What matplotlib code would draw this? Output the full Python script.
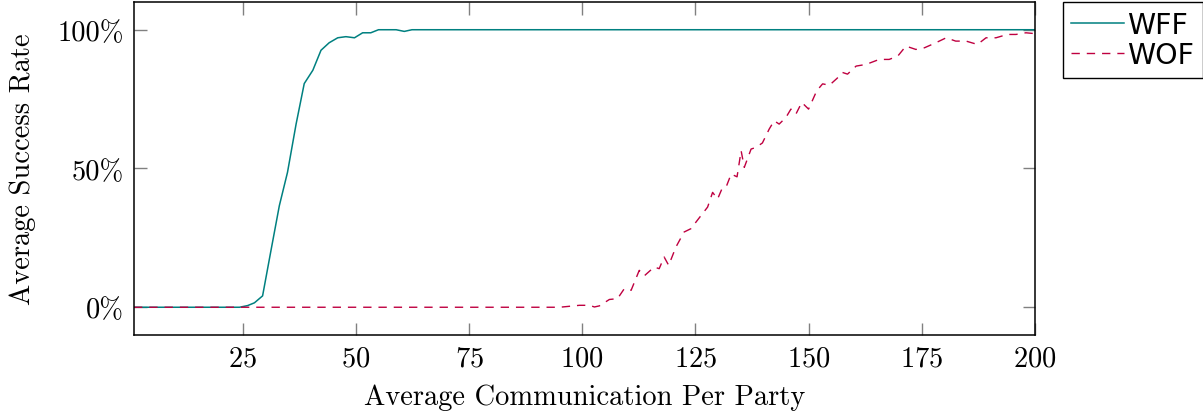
import numpy as np
import matplotlib
matplotlib.use("Agg")
from matplotlib import pyplot as plt
from matplotlib.ticker import PercentFormatter

# success rate vs. average communication per party
wff_x = [1, 24.3, 26.1, 27.6, 29.4, 31.2, 33.1, 34.9, 36.8, 38.6, 40.5, 42.3,
         44.1, 46.0, 47.8, 49.7, 51.5, 53.3, 55.0, 58.9, 60.7, 62.4, 200]
wff_y = [0, 0, 0.6, 1.6, 4.1, 20.0, 36.6, 48.6, 66.0, 80.6, 85.4, 92.6,
         95.3, 97.1, 97.5, 97.1, 98.9, 98.9, 100, 100, 99.4, 100, 100]

wof_x = [1, 95, 99.4, 101.6, 102.7, 103.8, 106, 107.8, 109.3, 110.8, 112.6, 113.7,
         115.9, 117, 118.1, 119.1, 120.7, 122.5, 124, 125.7, 127.7, 128.8, 129.9,
         131, 131.9, 132.9, 134.2, 135.1, 135.8, 137.3, 138.4, 139.8, 141.3, 142.4,
         143.5, 145, 146.1, 147.2, 148.5, 150, 151.8, 153.1, 154.6, 156.3, 157.5,
         158.6, 160.5, 162.7, 165.6, 167.8, 169.7, 171.5, 173.7, 175.6, 178.1,
         180.4, 182.5, 184.8, 187.3, 189.2, 191.4, 193.9, 195.8, 198, 200]
wof_y = [0, 0, 0.7, 0.7, 0.1, 0.5, 2.8, 3.1, 6.7, 6.1, 13.3, 11.3,
         14.5, 13.9, 18.1, 15.1, 21.7, 27.1, 28.3, 31.9, 36.1, 41.4, 39.0,
         43.2, 43.8, 48.0, 47.0, 56.4, 50.4, 57.0, 57.6, 59.2, 64.2, 67.2,
         66.0, 68.4, 71.4, 69.6, 73.8, 71.4, 78.0, 80.5, 80.0, 82.5, 84.6,
         84.0, 86.9, 87.5, 89.3, 89.3, 90.5, 94.1, 92.9, 93.5, 95.3,
         97.1, 95.9, 95.9, 94.7, 97.1, 97.1, 98.3, 98.3, 98.9, 98.6]

x_ticks = [25, 50, 75, 100, 125, 150, 175, 200]
y_ticks = [0, 50, 100]

plt.rcParams["font.family"] = "cmr10"
plt.rcParams["mathtext.fontset"] = "cm"
plt.rcParams["axes.formatter.use_mathtext"] = True

fig = plt.figure(figsize=(12.03, 4.14), dpi=100)
ax = fig.add_axes([0.1114, 0.1884, 0.7489, 0.8044])

ax.plot(wff_x, wff_y, color="#008080", lw=1.1, label="WFF")
ax.plot(wof_x, wof_y, color="#BF0040", lw=1.0, dashes=(6, 5), label="WOF")

ax.set_xlim(1, 200)
ax.set_ylim(-10, 110)
ax.set_xticks(x_ticks)
ax.set_yticks(y_ticks)
ax.yaxis.set_major_formatter(PercentFormatter(decimals=0))
ax.tick_params(direction="in", length=9, width=1.0, color="#808080",
               top=True, right=True, labelsize=20.5, pad=7)
for s in ax.spines.values():
    s.set_linewidth(1.1)

ax.set_xlabel("Average Communication Per Party", fontsize=20.5, labelpad=9)
ax.set_ylabel("Average Success Rate", fontsize=20.5, labelpad=16)

leg = ax.legend(loc="upper left", bbox_to_anchor=(1.031, 1.0),
                prop={"family": "DejaVu Sans", "size": 20.5},
                handlelength=1.85, handletextpad=0.12, borderpad=0.3,
                labelspacing=0.1, fancybox=False, framealpha=1, borderaxespad=0)
leg.get_frame().set_edgecolor("black")
leg.get_frame().set_linewidth(1.0)

fig.savefig("out.png", dpi=100)
